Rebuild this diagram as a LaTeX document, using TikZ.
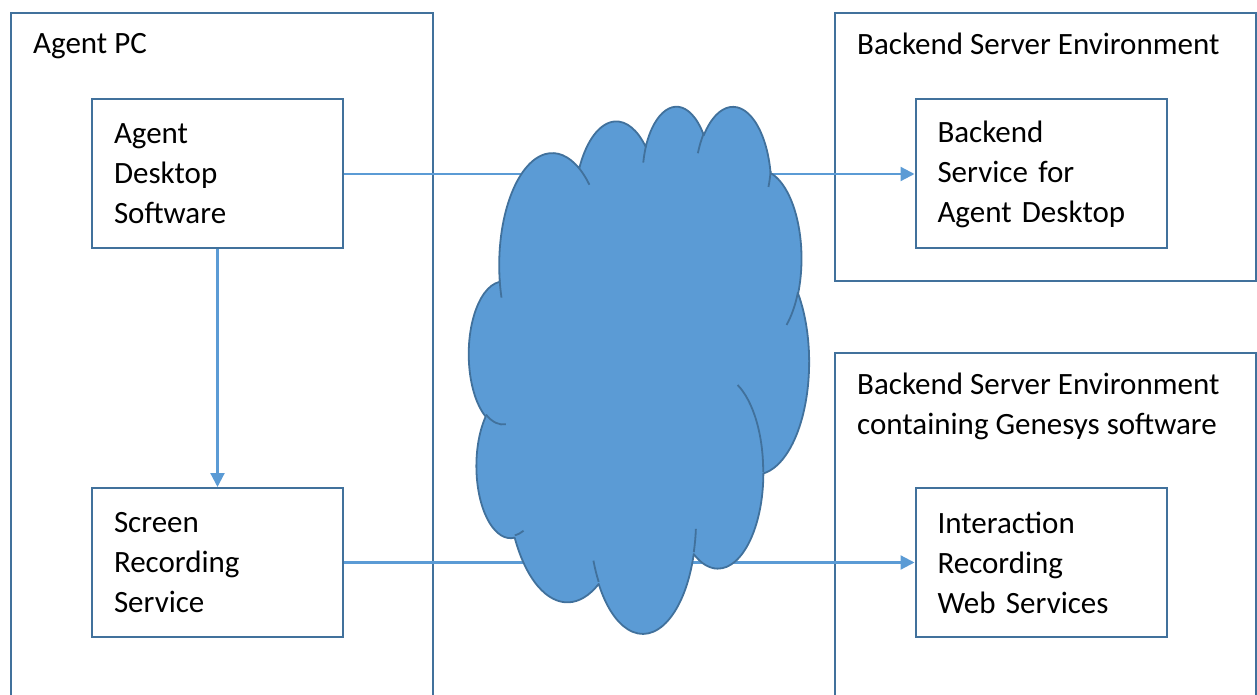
\documentclass[tikz,border=0pt]{standalone}
\usepackage{fontspec}
\setmainfont{Carlito}
\usetikzlibrary{arrows.meta}
\definecolor{boxblue}{HTML}{41719C}
\definecolor{lineblue}{HTML}{5B9BD5}
\newcommand\lobe[4]{arc[x radius=#1,y radius=#2,
  start angle={atan2(#1*sin(#3),#2*cos(#3))},
  delta angle={mod(atan2(#1*sin(#3+#4),#2*cos(#3+#4))-atan2(#1*sin(#3),#2*cos(#3))+720,360)}]}

\begin{document}
\begin{tikzpicture}[x=1pt,y=1pt,
  every node/.style={font=\fontsize{31}{40}\selectfont},
  group/.style={draw=boxblue,line width=2pt,anchor=north west,inner sep=0pt},
  title/.style={anchor=north west,align=left,inner sep=0pt},
  comp/.style={draw=boxblue,line width=2pt,minimum width=251pt,minimum height=149pt,
    text width=207pt,inner xsep=22pt,align=left},
  link/.style={draw=lineblue,line width=2.2pt,-{Triangle[length=14pt,width=14pt]}},
  cloudbody/.style={fill=lineblue,draw=boxblue,line width=1.8pt,line join=round},
  cloudline/.style={draw=boxblue,line width=1.8pt}]
\useasboundingbox (0,0) rectangle (1257,694);
\clip (0,0) rectangle (1257,694);

\node[group,minimum width=422pt,minimum height=700pt] (pc) at (10,682) {};
\node[group,minimum width=421pt,minimum height=268pt] (bse) at (834,682) {};
\node[group,minimum width=421pt,minimum height=360pt] (bseg) at (834,342) {};

\node[title] (pct) at ([shift={(23,-21)}]pc.north west) {Agent PC};
\node[title] (bset) at ([shift={(23,-21)}]bse.north west) {Backend Server Environment};
\node[title] (bsegt) at ([shift={(23,-21)}]bseg.north west) {Backend Server Environment\\containing Genesys software};

\node[comp] (ads) at (217.5,520) {Agent\\Desktop\\Software};
\node[comp] (srs) at (217.5,131.5) {Screen\\Recording\\Service};
\node[comp] (bsad) at (1041,520) {Backend\\Service for\\Agent Desktop};
\node[comp] (irws) at (1041,131.5) {Interaction\\Recording\\Web Services};

\draw[link] (ads) -- (bsad);
\draw[link] (ads) -- (srs);
\draw[link] (srs) -- (irws);

\begin{scope}[shift={(469,589)},xscale=0.78704,yscale=-1.21991]
\draw[cloudbody] (39.00,143.70)
  \lobe{67.53}{91.90}{-190.487}{123.781}
  \lobe{53.33}{72.67}{-144.102}{89.945}
  \lobe{43.65}{59.45}{-145.808}{99.723}
  \lobe{48.57}{65.95}{-130.986}{117.242}
  \lobe{53.33}{72.73}{-78.709}{109.027}
  \lobe{67.75}{92.20}{-46.267}{130.269}
  \lobe{57.85}{78.67}{0.625}{114.033}
  \lobe{67.52}{92.15}{22.452}{115.173}
  \lobe{77.20}{105.43}{66.243}{75.711}
  \lobe{43.60}{59.18}{-274.942}{146.736}
  \lobe{43.45}{59.45}{-246.829}{152.519} -- cycle;
\draw[cloudline] (46.93,261.77) \lobe{43.45}{59.45}{86.742}{26.430}
  (69.28,348.99) \lobe{43.60}{59.18}{73.610}{11.447}
  (164.78,390.90) \lobe{67.52}{92.15}{137.624}{14.081}
  (288.27,347.51) \lobe{67.52}{92.15}{6.453}{15.998}
  (341.29,229.54) \lobe{57.85}{78.67}{-70.292}{70.917}
  (417.98,153.54) \lobe{53.33}{72.73}{30.318}{27.752}
  (383.24,54.26) \lobe{48.57}{65.95}{13.744}{14.859}
  (290.78,39.52) \lobe{48.57}{65.95}{-149.181}{18.195}
  (221.41,47.20) \lobe{43.65}{59.45}{-163.494}{17.686}
  (140.00,51.92) \lobe{67.53}{91.90}{-66.707}{12.319}
  (41.27,157.89) \lobe{67.53}{91.90}{157.654}{11.858};
\end{scope}
\end{tikzpicture}
\end{document}
